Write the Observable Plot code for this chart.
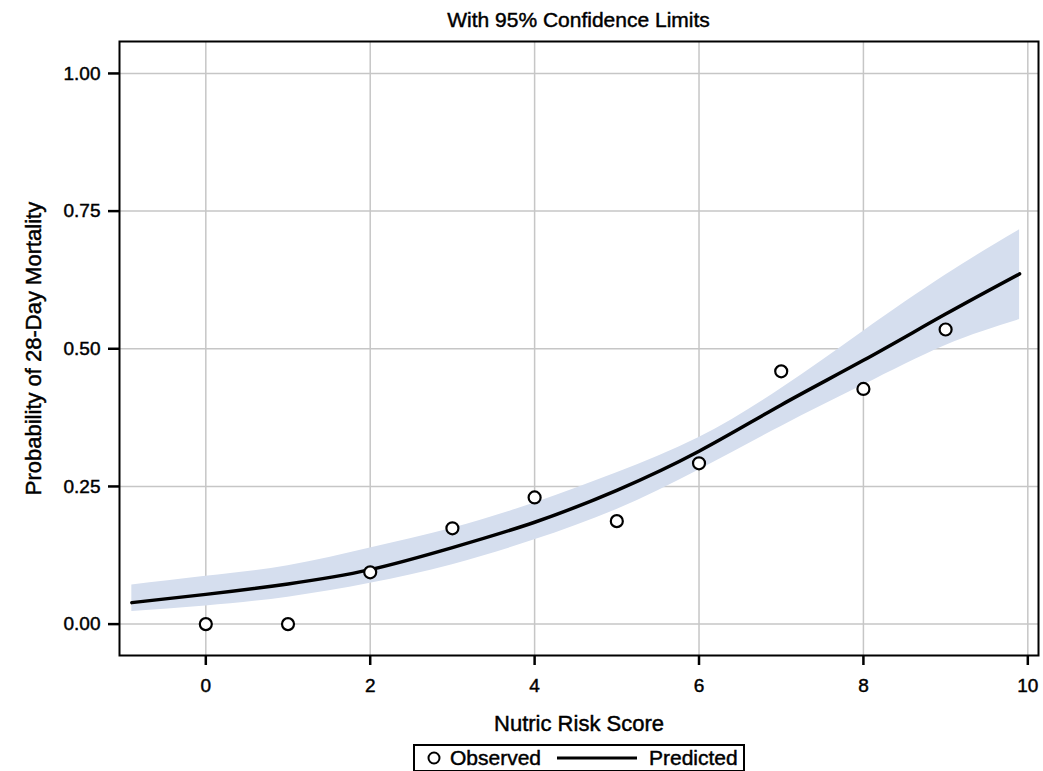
<!DOCTYPE html>
<html>
<head>
<meta charset="utf-8">
<script src="https://cdn.jsdelivr.net/npm/d3@7"></script>
<script src="https://cdn.jsdelivr.net/npm/@observablehq/plot@0.6"></script>
<style>
  html, body { margin: 0; padding: 0; background: #fff; }
  body { width: 1043px; height: 771px; position: relative; font-family: "Liberation Sans", Arial, sans-serif; color: #000; }
  #title { position: absolute; left: 119px; top: 0; width: 919px; height: 40px; line-height: 40px; text-align: center; font-size: 21px; -webkit-text-stroke: 0.45px #000; }
  #chart { position: absolute; left: 0; top: 40px; }
  #chart svg { display: block; }
  #chart svg text { stroke: #000 !important; stroke-width: 0.45px !important; }
  #legend { position: absolute; left: 413px; top: 744px; width: 328px; height: 24px; border: 2px solid #000; box-sizing: content-box; font-size: 21px; -webkit-text-stroke: 0.45px #000; }
  #legend .item { position: absolute; top: 0; height: 24px; line-height: 24px; white-space: nowrap; }
  #legend svg { position: absolute; top: 0; }
</style>
</head>
<body>
<div id="title">With 95% Confidence Limits</div>
<div id="chart"></div>
<div id="legend">
  <svg width="330" height="24" style="left:0;top:0">
    <circle cx="19" cy="12" r="5.5" fill="#fff" stroke="#000" stroke-width="2"></circle>
    <line x1="142" x2="222" y1="12" y2="12" stroke="#000" stroke-width="3"></line>
  </svg>
  <span class="item" style="left:35px">Observed</span>
  <span class="item" style="left:234px">Predicted</span>
</div>
<script>
// Observed proportions by Nutric risk score
const obsScore = [0, 1, 2, 3, 4, 5, 6, 7, 8, 9];
const obsProb  = [0.000, 0.000, 0.094, 0.174, 0.230, 0.187, 0.292, 0.459, 0.427, 0.535];

// Predicted probability and 95% confidence limits
const predScore = [-0.9, 0, 1, 2, 3, 4, 5, 6, 7, 8, 9, 9.9];
const predProb  = [0.039, 0.054, 0.073, 0.099, 0.139, 0.185, 0.243, 0.314, 0.398, 0.479, 0.563, 0.636];
const predLower = [0.023, 0.033, 0.049, 0.074, 0.108, 0.153, 0.208, 0.280, 0.359, 0.434, 0.506, 0.553];
const predUpper = [0.071, 0.087, 0.106, 0.138, 0.174, 0.220, 0.275, 0.339, 0.428, 0.532, 0.634, 0.716];

// Axis ticks
const xTicks = [0, 2, 4, 6, 8, 10];
const yTicks = [0, 0.25, 0.5, 0.75, 1.0];

const observed = obsScore.map((x, i) => ({x, y: obsProb[i]}));
const predicted = predScore.map((x, i) => ({x, p: predProb[i], lo: predLower[i], hi: predUpper[i]}));

const chart = Plot.plot({
  width: 1043,
  height: 700,
  marginTop: 1,
  marginBottom: 85,
  marginLeft: 119,
  marginRight: 5,
  style: {fontFamily: "Liberation Sans, Arial, sans-serif", fontSize: "19px", color: "#000", background: "#fff"},
  x: {domain: [-1.05, 10.13]},
  y: {domain: [-0.057, 1.058]},
  marks: [
    Plot.gridX(xTicks, {stroke: "#c6c6c6", strokeOpacity: 1, strokeWidth: 1.5}),
    Plot.gridY(yTicks, {stroke: "#c6c6c6", strokeOpacity: 1, strokeWidth: 1.5}),
    Plot.areaY(predicted, {x: "x", y1: "lo", y2: "hi", fill: "#d5deee", fillOpacity: 1, curve: "natural"}),
    Plot.line(predicted, {x: "x", y: "p", stroke: "#000", strokeWidth: 3.5, curve: "natural"}),
    Plot.dot(observed, {x: "x", y: "y", r: 6, fill: "#fff", stroke: "#000", strokeWidth: 2.2}),
    Plot.frame({stroke: "#000", strokeWidth: 2}),
    Plot.axisX(xTicks, {tickSize: 10, tickPadding: 13, strokeWidth: 2.5, label: null, fontSize: 19}),
    Plot.axisY(yTicks, {tickSize: 11, tickPadding: 8, strokeWidth: 2.5, label: null, fontSize: 19, tickFormat: d3.format(".2f")}),
    Plot.text(["Nutric Risk Score"], {frameAnchor: "bottom", dy: 68, fontSize: 22, lineAnchor: "middle", textAnchor: "middle"}),
    Plot.text(["Probability of 28-Day Mortality"], {frameAnchor: "left", dx: -86, rotate: -90, fontSize: 22, lineAnchor: "middle", textAnchor: "middle"})
  ]
});
document.getElementById("chart").appendChild(chart);
</script>
</body>
</html>
